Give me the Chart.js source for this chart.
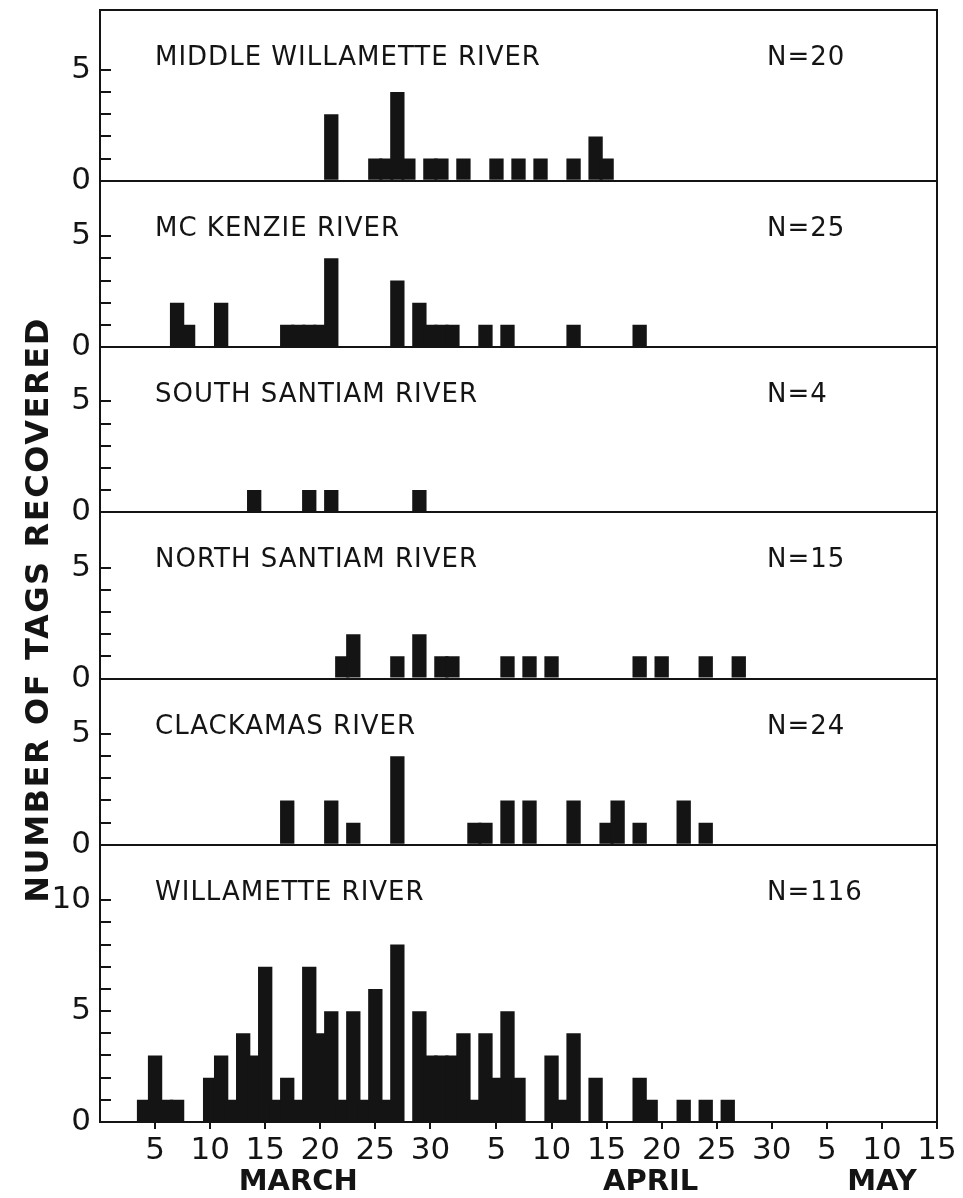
<!DOCTYPE html>
<html>
<head>
<meta charset="utf-8">
<title>Tags recovered by river</title>
<script src="https://cdn.jsdelivr.net/npm/chart.js@4.4.1/dist/chart.umd.min.js"></script>
<style>
  html, body { margin: 0; padding: 0; background: #fff; }
  #chart { display: block; }
</style>
</head>
<body>
<canvas id="chart" width="963" height="1198"></canvas>
<script>
// Recovery days and number of tags per day
const middleWillametteDates = ['Mar 21', 'Mar 25', 'Mar 26', 'Mar 27', 'Mar 28', 'Mar 30', 'Mar 31', 'Apr 2', 'Apr 5', 'Apr 7', 'Apr 9', 'Apr 12', 'Apr 14', 'Apr 15'];
const middleWillametteCounts = [3, 1, 1, 4, 1, 1, 1, 1, 1, 1, 1, 1, 2, 1];

const mcKenzieDates = ['Mar 7', 'Mar 8', 'Mar 11', 'Mar 17', 'Mar 18', 'Mar 19', 'Mar 20', 'Mar 21', 'Mar 27', 'Mar 29', 'Mar 30', 'Mar 31', 'Apr 1', 'Apr 4', 'Apr 6', 'Apr 12', 'Apr 18'];
const mcKenzieCounts = [2, 1, 2, 1, 1, 1, 1, 4, 3, 2, 1, 1, 1, 1, 1, 1, 1];

const southSantiamDates = ['Mar 14', 'Mar 19', 'Mar 21', 'Mar 29'];
const southSantiamCounts = [1, 1, 1, 1];

const northSantiamDates = ['Mar 22', 'Mar 23', 'Mar 27', 'Mar 29', 'Mar 31', 'Apr 1', 'Apr 6', 'Apr 8', 'Apr 10', 'Apr 18', 'Apr 20', 'Apr 24', 'Apr 27'];
const northSantiamCounts = [1, 2, 1, 2, 1, 1, 1, 1, 1, 1, 1, 1, 1];

const clackamasDates = ['Mar 17', 'Mar 21', 'Mar 23', 'Mar 27', 'Apr 3', 'Apr 4', 'Apr 6', 'Apr 8', 'Apr 12', 'Apr 15', 'Apr 16', 'Apr 18', 'Apr 22', 'Apr 24'];
const clackamasCounts = [2, 2, 1, 4, 1, 1, 2, 2, 2, 1, 2, 1, 2, 1];

const willametteDates = ['Mar 4', 'Mar 5', 'Mar 6', 'Mar 7', 'Mar 10', 'Mar 11', 'Mar 12', 'Mar 13', 'Mar 14', 'Mar 15',
  'Mar 16', 'Mar 17', 'Mar 18', 'Mar 19', 'Mar 20', 'Mar 21', 'Mar 22', 'Mar 23', 'Mar 24', 'Mar 25', 'Mar 26', 'Mar 27',
  'Mar 29', 'Mar 30', 'Mar 31', 'Apr 1', 'Apr 2', 'Apr 3', 'Apr 4', 'Apr 5', 'Apr 6', 'Apr 7',
  'Apr 10', 'Apr 11', 'Apr 12', 'Apr 14', 'Apr 18', 'Apr 19', 'Apr 22', 'Apr 24', 'Apr 26'];
const willametteCounts = [1, 3, 1, 1, 2, 3, 1, 4, 3, 7,
  1, 2, 1, 7, 4, 5, 1, 5, 1, 6, 1, 8,
  5, 3, 3, 3, 4, 1, 4, 2, 5, 2,
  3, 1, 4, 2, 2, 1, 1, 1, 1];

const riverNames = ['MIDDLE WILLAMETTE RIVER', 'MC KENZIE RIVER', 'SOUTH SANTIAM RIVER', 'NORTH SANTIAM RIVER', 'CLACKAMAS RIVER', 'WILLAMETTE RIVER'];
const riverDates = [middleWillametteDates, mcKenzieDates, southSantiamDates, northSantiamDates, clackamasDates, willametteDates];
const riverCounts = [middleWillametteCounts, mcKenzieCounts, southSantiamCounts, northSantiamCounts, clackamasCounts, willametteCounts];
const panelMax = [7.7, 7.5, 7.45, 7.5, 7.5, 12.5];
const panelTickTop = [5, 5, 5, 5, 5, 10];

// x axis runs from the day before Mar 1 to May 15
const monthLengths = [['Mar', 31], ['Apr', 30], ['May', 15]];
const dayLabels = [''];
monthLengths.forEach(([m, n]) => {
  for (let d = 1; d <= n; d++) dayLabels.push(m + ' ' + d);
});
const xTickDates = ['Mar 5', 'Mar 10', 'Mar 15', 'Mar 20', 'Mar 25', 'Mar 30',
  'Apr 5', 'Apr 10', 'Apr 15', 'Apr 20', 'Apr 25', 'Apr 30', 'May 5', 'May 10', 'May 15'];
const monthTitles = ['MARCH', 'APRIL', 'MAY'];
const monthTitleDates = ['Mar 18', 'Apr 19', 'May 10'];

const ink = '#141414';
const family = '"DejaVu Sans", "Liberation Sans", sans-serif';
Chart.defaults.font.family = family;
Chart.defaults.color = ink;

// draw text stretched by letter spacing to a given length
function fitText(ctx, text, x, y, length) {
  const w = ctx.measureText(text).width;
  ctx.letterSpacing = ((length - w) / (text.length - 1)).toFixed(2) + 'px';
  ctx.textAlign = 'center';
  ctx.fillText(text, x, y);
  ctx.letterSpacing = '0px';
}

const panelDecor = {
  id: 'panelDecor',
  afterDraw(chart) {
    const { ctx, chartArea: area } = chart;
    ctx.save();
    ctx.strokeStyle = ink;
    ctx.fillStyle = ink;
    ctx.lineWidth = 2;
    ctx.strokeRect(area.left, area.top, area.right - area.left, area.bottom - area.top);

    riverNames.forEach((name, i) => {
      const scale = chart.scales['y' + i];
      // inward tick marks, one per tag
      ctx.beginPath();
      scale.ticks.forEach(t => {
        if (t.value > 0 && t.value <= panelTickTop[i] && Number.isInteger(t.value)) {
          const y = Math.round(scale.getPixelForValue(t.value));
          ctx.moveTo(area.left, y);
          ctx.lineTo(area.left + 11, y);
        }
      });
      ctx.stroke();

      const total = riverCounts[i].reduce((a, b) => a + b, 0);
      ctx.font = '26px ' + family;
      ctx.textAlign = 'left';
      ctx.textBaseline = 'alphabetic';
      ctx.letterSpacing = '1px';
      ctx.fillText(name, area.left + 55, scale.top + 55);
      ctx.fillText('N=' + total, area.left + 667, scale.top + 55);
      ctx.letterSpacing = '0px';
    });

    // month names under the day ticks
    const x = chart.scales.x;
    ctx.font = 'bold 29px ' + family;
    ctx.textAlign = 'center';
    ctx.textBaseline = 'alphabetic';
    monthTitles.forEach((m, i) => {
      ctx.fillText(m, x.getPixelForValue(dayLabels.indexOf(monthTitleDates[i])), area.bottom + 68);
    });

    // y axis title
    ctx.translate(40, 610);
    ctx.rotate(-Math.PI / 2);
    ctx.font = 'bold 32px ' + family;
    ctx.textBaseline = 'middle';
    fitText(ctx, 'NUMBER OF TAGS RECOVERED', 0, 0, 584);
    ctx.restore();
  }
};

const scales = {
  x: {
    type: 'category',
    labels: dayLabels,
    offset: false,
    grid: { drawOnChartArea: false, offset: false, tickLength: 7, color: ink, lineWidth: 2 },
    border: { display: true, color: ink, width: 2 },
    ticks: {
      autoSkip: false,
      maxRotation: 0,
      padding: 3,
      font: { size: 31 },
      callback: function (value) {
        const lab = this.getLabelForValue(value);
        return xTickDates.includes(lab) ? lab.split(' ')[1] : null;
      }
    },
    afterFit: s => {
      s.height = 76;
      s.paddingLeft = 0;
      s.paddingRight = 0;
    }
  }
};

// top panel is the last one in the stack
for (let i = riverNames.length - 1; i >= 0; i--) {
  scales['y' + i] = {
    type: 'linear',
    position: 'left',
    stack: 'rivers',
    stackWeight: panelMax[i],
    min: 0,
    max: panelMax[i],
    grid: {
      drawTicks: false,
      lineWidth: 2,
      color: c => (c.tick && c.tick.value === 0 ? ink : 'rgba(0,0,0,0)')
    },
    border: { display: true, color: ink, width: 2 },
    ticks: {
      stepSize: 1,
      autoSkip: false,
      includeBounds: false,
      padding: 9,
      font: { size: 31, lineHeight: 0.5 },
      callback: v => (v % 5 === 0 ? String(v) : '')
    },
    afterFit: s => {
      s.width = 100;
      s.paddingTop = 0;
      s.paddingBottom = 0;
    }
  };
}

new Chart(document.getElementById('chart'), {
  type: 'bar',
  data: {
    labels: dayLabels,
    datasets: riverNames.map((name, i) => ({
      label: name,
      yAxisID: 'y' + i,
      data: riverDates[i].map((d, j) => ({ x: d, y: riverCounts[i][j] })),
      backgroundColor: ink,
      borderWidth: 0,
      barPercentage: 1.3,
      categoryPercentage: 1,
      grouped: false
    }))
  },
  options: {
    responsive: false,
    animation: false,
    layout: { padding: { top: 10, right: 26, left: 0, bottom: 0 } },
    plugins: { legend: { display: false }, tooltip: { enabled: false } },
    scales
  },
  plugins: [panelDecor]
});
</script>
</body>
</html>
